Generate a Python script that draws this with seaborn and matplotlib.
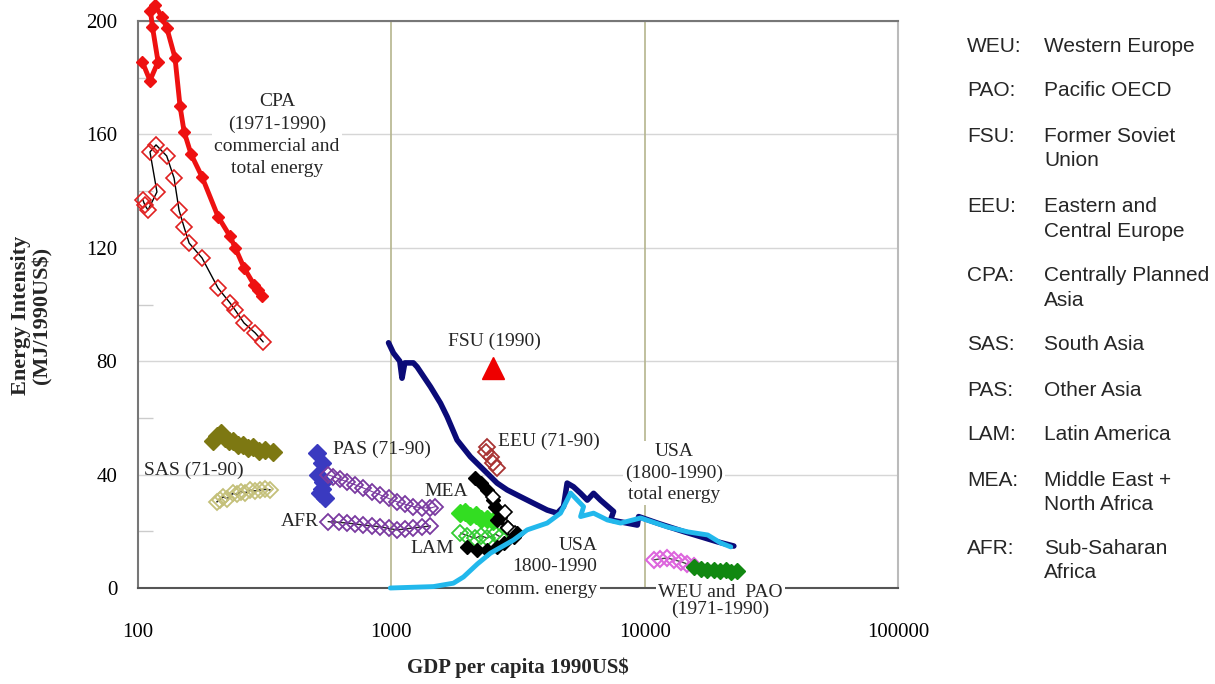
import matplotlib
matplotlib.use("Agg")
import matplotlib.pyplot as plt
import matplotlib.ticker as mticker
import seaborn as sns

# ---- data (GDP per capita 1990US$, MJ/1990US$) ----
cpa_com_gdp = [104, 111.5, 120, 114, 112, 117, 124, 130, 140, 146.5, 152, 162, 179, 207, 231, 242, 262, 287, 298, 309]
cpa_com_ei = [185.6, 179, 185.6, 198, 203.5, 205.5, 201.5, 197.5, 187, 170, 161, 153, 145, 131, 124, 120, 113, 107, 105, 103]

cpa_tot_gdp = [104.4, 106.5, 109.5, 118.8, 111.5, 117.8, 129.8, 138.8, 145.2, 152, 159.1, 179, 207, 231, 242, 262, 290, 312]
cpa_tot_ei = [137, 135, 133.3, 139.7, 153.8, 156.3, 152.4, 144.6, 133.3, 127.3, 121.7, 116.4, 105.8, 100.5, 98, 93.5, 90, 86.8]

usa_tot_gdp = [975, 1019, 1080, 1102, 1130, 1222, 1264, 1427, 1563, 1661, 1818, 2052, 2388, 2616, 2866, 3236,
               3641, 4122, 4515, 4783, 4943, 5236, 5585, 5935, 6285, 6693, 7536, 7338, 9355, 9464, 11220,
               14260, 16630, 19370, 22490]
usa_tot_ei = [86.5, 82.9, 80, 74, 79.4, 79.4, 78, 71, 65.2, 60.4, 52.2, 46.3, 40.5, 37, 34.6, 32.2,
              29.9, 27.5, 26.4, 28.7, 37, 35.7, 33.4, 31, 33.4, 31, 27, 24, 22.2, 25.2, 22.9,
              19.9, 18.1, 16.3, 14.8]

usa_com_gdp = [991, 1466, 1758, 1927, 2188, 2463, 3035, 3438, 4122, 4654, 4943, 5100, 5420, 5740, 5585,
               6285, 7122, 8040, 9640, 12330, 14790, 17740, 19950, 21870]
usa_com_ei = [0, 0.5, 1.7, 3.9, 8.5, 12.3, 16.9, 20.5, 22.9, 26.4, 31, 33.5, 31, 28.7, 25.2,
              26.4, 24, 22.9, 24.7, 21.5, 19.8, 18.7, 15.9, 14.5]

sas_com_gdp = [198, 205, 212, 220, 228, 237, 248, 260, 272, 285, 300, 318, 342]
sas_com_ei = [52, 53.5, 54.5, 53, 52, 51.8, 50.5, 50.6, 49.5, 49.6, 48.5, 48.8, 48.0]
sas_tot_gdp = [205, 210, 217, 225, 237, 245, 255, 265, 277, 290, 304, 318, 332]
sas_tot_ei = [30.4, 31.2, 32.2, 31.5, 33.4, 33, 34, 33.6, 34.5, 34.2, 34.6, 34.8, 34.6]

pas_com_gdp = [508, 532, 514, 538, 524, 548, 532]
pas_com_ei = [47.6, 44, 39.9, 37.5, 33.5, 31.7, 35]
pas_tot_gdp = [560, 590, 625, 668, 720, 775, 840, 905, 975, 1054, 1130, 1222, 1320, 1427, 1492]
pas_tot_ei = [40, 39.3, 38.4, 37.5, 36.4, 35.3, 34, 32.8, 31.6, 30.4, 29.6, 28.7, 28.3, 28.2, 28.7]

afr_gdp = [563, 620, 668, 720, 775, 840, 905, 975, 1054, 1130, 1222, 1320, 1427]
afr_ei = [23.4, 23.2, 22.9, 22.6, 22.2, 21.9, 21.6, 21.0, 20.5, 20.8, 21.2, 21.5, 21.9]

mea_com_gdp = [2148, 2249, 2389, 2529, 2576, 2697, 2617, 2866]
mea_com_ei = [38.8, 37, 34.6, 31, 28.7, 25.2, 24, 21.6]
mea_tot_gdp = [2529, 2822, 2899, 3090]
mea_tot_ei = [32.2, 26.9, 21.2, 19.4]

grn_com_gdp = [1875, 1950, 2050, 2150, 2250, 2389, 2529]
grn_com_ei = [26.5, 26.8, 25.5, 25.8, 24.5, 24.2, 23.5]
grn_tot_gdp = [1875, 1991, 2148, 2249, 2389, 2576, 2697]
grn_tot_ei = [19.4, 18.5, 17.5, 18.5, 17.6, 19, 18]

lam_gdp = [1991, 2181, 2389, 2617, 2772, 3036, 3140]
lam_ei = [14.6, 13.4, 13.4, 14.6, 15.9, 18.1, 19.4]

eeu_gdp = [2389, 2355, 2463, 2529, 2617]
eeu_ei = [49.8, 48.1, 46.3, 44, 42.3]

weu_gdp = [10860, 11500, 12300, 13000, 13880, 14700, 15620]
weu_ei = [9.9, 10.3, 10.6, 10.0, 9.3, 8.5, 7.6]
pao_gdp = [15620, 16630, 17600, 18740, 19800, 20900, 22000, 23240]
pao_ei = [7.5, 6.8, 6.2, 6.5, 6.0, 6.3, 5.8, 6.0]

fsu_gdp = [2529]
fsu_ei = [77.6]

legend_abbr = ["WEU:", "PAO:", "FSU:", "EEU:", "CPA:", "SAS:", "PAS:", "LAM:", "MEA:", "AFR:"]
legend_desc = [["Western Europe"], ["Pacific OECD"], ["Former Soviet", "Union"],
               ["Eastern and", "Central Europe"], ["Centrally Planned", "Asia"], ["South Asia"],
               ["Other Asia"], ["Latin America"], ["Middle East +", "North Africa"],
               ["Sub-Saharan", "Africa"]]
legend_y = [46, 91, 136, 207, 276, 345, 390, 434, 480, 549]

# ---- figure ----
sns.set_theme(style="white")
plt.rcParams["font.family"] = ["Liberation Serif", "DejaVu Serif"]

W, H = 1215, 684
fig = plt.figure(figsize=(W / 100, H / 100), dpi=100)
ax = fig.add_axes([138 / W, 1 - 588 / H, 760 / W, 567 / H])
ax.set_xscale("log")
ax.set_xlim(100, 100000)
ax.set_ylim(0, 200)


def draw(x, y, color, lw, marker="D", ms=7, mfc=None, mec=None, mew=1.0, z=3):
    sns.lineplot(x=x, y=y, sort=False, estimator=None, ax=ax, color=color,
                 linewidth=lw, marker=marker, markersize=ms,
                 markerfacecolor=color if mfc is None else mfc,
                 markeredgecolor=color if mec is None else mec,
                 markeredgewidth=mew, zorder=z, clip_on=False, legend=False)


# CPA
draw(cpa_com_gdp, cpa_com_ei, "#ee1111", 3.5, ms=6)
draw(cpa_tot_gdp, cpa_tot_ei, "black", 1.0, ms=8, mfc="none", mec="#e02020", mew=1.2)
# USA
draw(usa_tot_gdp, usa_tot_ei, "#0b0b78", 4.0, marker=None)
draw(usa_com_gdp, usa_com_ei, "#22b8ec", 3.5, marker=None, z=4)
# SAS
draw(sas_com_gdp, sas_com_ei, "#7d7812", 4.0, ms=9)
draw(sas_tot_gdp, sas_tot_ei, "#222222", 1.2, ms=8, mfc="none", mec="#c4c07a", mew=1.3)
# PAS / AFR
draw(pas_com_gdp, pas_com_ei, "#3a3ac0", 4.0, ms=9)
draw(pas_tot_gdp, pas_tot_ei, "#7a3aa0", 0.8, ms=8, mfc="none", mec="#7a3aa0", mew=1.3)
draw(afr_gdp, afr_ei, "#222222", 1.0, ms=8, mfc="none", mec="#7a3aa0", mew=1.3)
# MEA / LAM
draw(grn_com_gdp, grn_com_ei, "#33dd22", 4.0, ms=9)
draw(grn_tot_gdp, grn_tot_ei, "#333333", 1.0, ms=8, mfc="none", mec="#33cc33", mew=1.3)
draw(mea_com_gdp, mea_com_ei, "black", 3.0, ms=7)
draw(mea_tot_gdp, mea_tot_ei, "black", 1.0, ms=7, mfc="white", mec="black", mew=1.2)
draw(lam_gdp, lam_ei, "black", 3.0, ms=7)
# EEU
draw(eeu_gdp, eeu_ei, "#a83232", 0.0, ms=8, mfc="none", mec="#a83232", mew=1.3)
# WEU / PAO
draw(weu_gdp, weu_ei, "#444444", 1.0, ms=8, mfc="none", mec="#dd66dd", mew=1.5)
draw(pao_gdp, pao_ei, "#118811", 3.0, ms=8)
# FSU
draw(fsu_gdp, fsu_ei, "#ee0000", 0, marker="^", ms=16)

# ---- axes styling ----
ax.set_axisbelow(True)
ax.grid(axis="y", which="major", color="#d6d6d6", lw=1)
ax.grid(axis="x", visible=False)
for xv in [1000, 10000]:
    ax.axvline(xv, color="#b5b58e", lw=1.2, zorder=1)

ax.set_xticks([100, 1000, 10000, 100000])
ax.set_xticklabels(["100", "1000", "10000", "100000"])
ax.xaxis.set_minor_locator(mticker.NullLocator())
ax.set_yticks([0, 40, 80, 120, 160, 200])
ax.yaxis.set_minor_locator(mticker.FixedLocator([20, 60, 100, 140, 180]))
ax.tick_params(axis="both", which="major", length=0, labelsize=15, colors="black")
ax.tick_params(axis="x", which="major", pad=25)
ax.tick_params(axis="y", which="major", pad=15)
ax.tick_params(axis="y", which="minor", direction="in", length=11, width=1, color="#cccccc", left=True)

ax.spines["left"].set_color("#777777")
ax.spines["top"].set_color("#777777")
ax.spines["right"].set_color("#bbbbbb")
ax.spines["bottom"].set_color("#555555")
for s in ax.spines.values():
    s.set_linewidth(1.5)

ax.set_xlabel("GDP per capita 1990US$", fontsize=15, fontweight="bold")
ax.xaxis.set_label_coords(0.5, -0.123)
ax.set_ylabel("Energy Intensity\n(MJ/1990US$)", fontsize=16, fontweight="bold", linespacing=1.1)
ax.yaxis.set_label_coords(-0.113, 0.48)

# ---- annotations ----
box = dict(facecolor="white", edgecolor="none", pad=1.5)
fs = 14
ax.text(354, 159.8, "CPA\n(1971-1990)\ncommercial and\ntotal energy", ha="center", va="center",
        fontsize=fs, linespacing=1.4, bbox=box, zorder=5)
ax.text(2553, 87.1, "FSU (1990)", ha="center", va="center", fontsize=fs)
ax.text(166, 41.6, "SAS (71-90)", ha="center", va="center", fontsize=fs)
ax.text(921, 49, "PAS (71-90)", ha="center", va="center", fontsize=fs)
ax.text(436, 23.3, "AFR", ha="center", va="center", fontsize=fs)
ax.text(1648, 33.9, "MEA", ha="center", va="center", fontsize=fs)
ax.text(1452, 13.8, "LAM", ha="center", va="center", fontsize=fs)
ax.text(4179, 51.9, "EEU (71-90)", ha="center", va="center", fontsize=fs)
ax.text(13030, 40.6, "USA\n(1800-1990)\ntotal energy", ha="center", va="center",
        fontsize=fs, linespacing=1.35, bbox=box, zorder=5)
ax.text(6516, 11.3, "USA\n1800-1990", ha="right", va="center", fontsize=fs,
        multialignment="right", linespacing=1.3)
ax.text(6516, -0.7, "comm. energy", ha="right", va="center", fontsize=fs, bbox=box,
        zorder=5, clip_on=False)
ax.text(19950, -4.6, "WEU and  PAO\n(1971-1990)", ha="center", va="center", fontsize=fs,
        linespacing=1.0, bbox=box, zorder=5, clip_on=False)

# ---- region key on the right ----
for abbr, desc, yp in zip(legend_abbr, legend_desc, legend_y):
    fig.text(967 / W, 1 - yp / H, abbr, ha="left", va="center", fontsize=15, family="Liberation Sans")
    for i, line in enumerate(desc):
        fig.text(1044 / W, 1 - (yp + 24 * i) / H, line, ha="left", va="center",
                 fontsize=15, family="Liberation Sans")

fig.savefig("out.png", dpi=100, facecolor="white")
